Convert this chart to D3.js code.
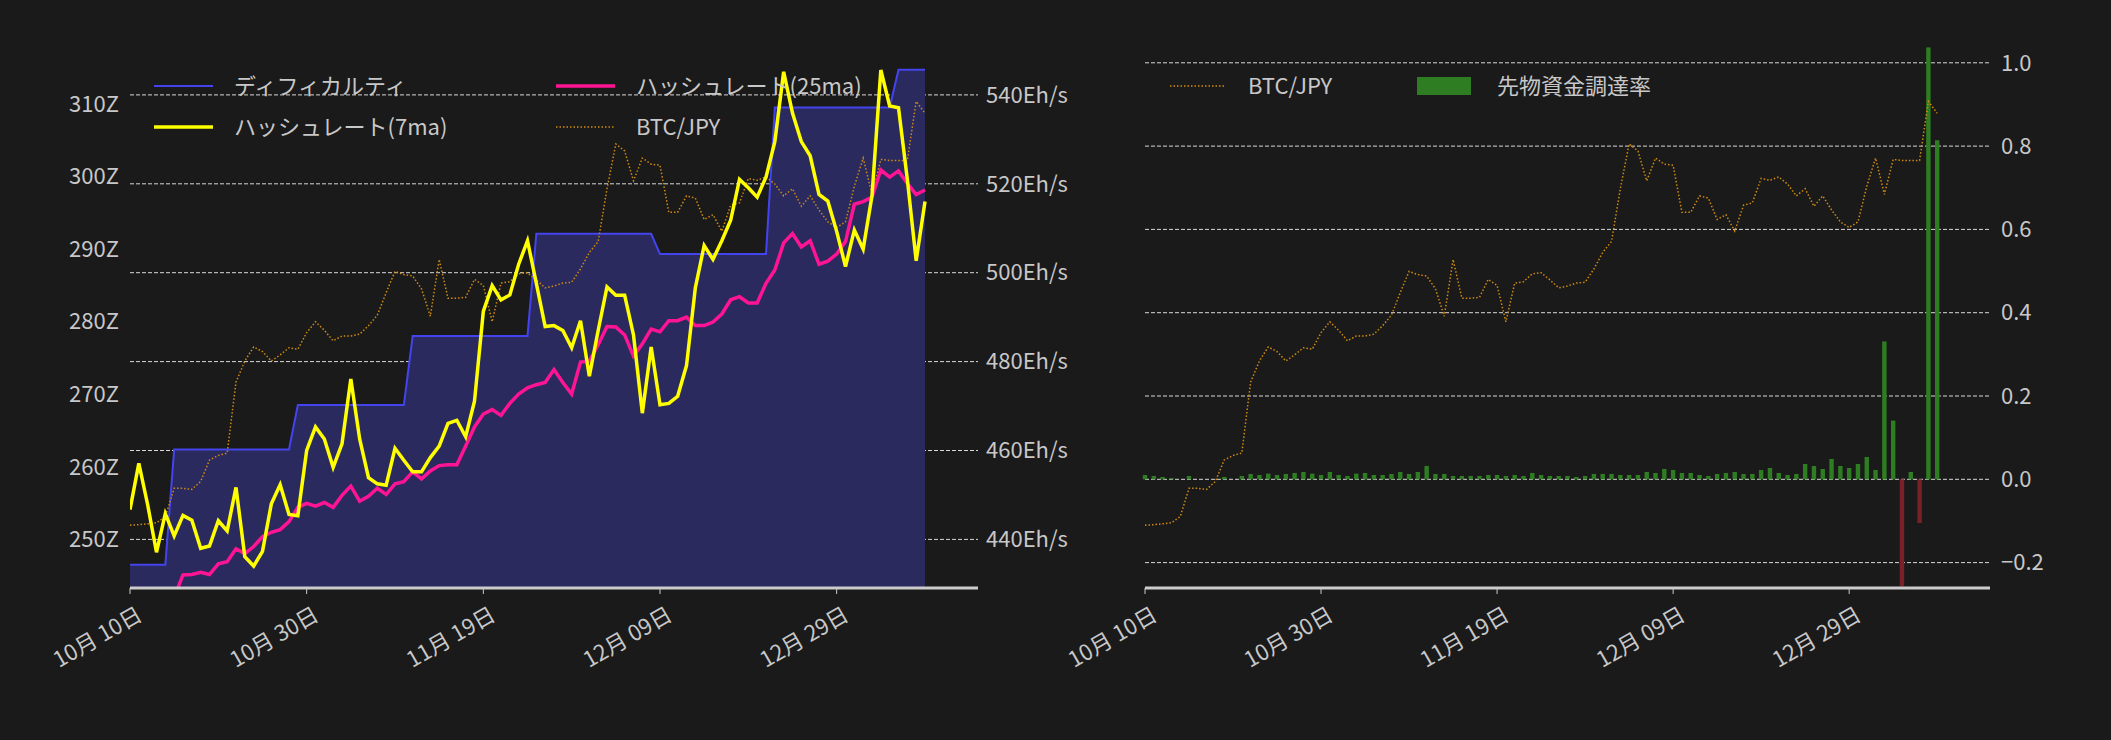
<!DOCTYPE html>
<html><head><meta charset="utf-8">
<script src="https://cdn.jsdelivr.net/npm/d3@7"></script>
<style>body{margin:0;background:#1a1a1a}svg{display:block}text{font-family:"Noto Sans CJK JP","Noto Sans",sans-serif}</style>
</head><body><svg id="c" width="2111" height="740"></svg>
<script>
const xTickIdx=[0,20,40,60,80];
const xTickLabels=["10月 10日","10月 30日","11月 19日","12月 09日","12月 29日"];
const difficulty=[246.5,246.5,246.5,246.5,246.5,262.4,262.4,262.4,262.4,262.4,262.4,262.4,262.4,262.4,262.4,262.4,262.4,262.4,262.4,268.5,268.5,268.5,268.5,268.5,268.5,268.5,268.5,268.5,268.5,268.5,268.5,268.5,278.0,278.0,278.0,278.0,278.0,278.0,278.0,278.0,278.0,278.0,278.0,278.0,278.0,278.0,292.1,292.1,292.1,292.1,292.1,292.1,292.1,292.1,292.1,292.1,292.1,292.1,292.1,292.1,289.3,289.3,289.3,289.3,289.3,289.3,289.3,289.3,289.3,289.3,289.3,289.3,289.3,309.5,309.5,309.5,309.5,309.5,309.5,309.5,309.5,309.5,309.5,309.5,309.5,309.5,309.5,314.7,314.7,314.7,314.7];
const hash7=[446.7,457.1,447.8,437.1,445.8,440.8,445.4,444.3,438.0,438.5,444.2,441.9,451.7,436.1,434.0,437.3,448.0,452.3,445.6,445.3,460.0,465.3,462.6,456.2,461.5,476.1,462.6,453.9,452.5,452.2,460.5,457.8,455.2,455.2,458.4,461.0,466.1,466.8,463.1,471.1,491.3,497.1,493.9,495.0,501.9,507.2,497.6,487.9,488.1,487.0,483.1,489.2,476.7,487.0,496.8,494.9,494.9,486.0,468.4,483.3,470.3,470.6,472.2,479.1,496.6,506.1,503.0,507.2,511.8,521.0,519.1,517.0,521.5,529.5,545.2,535.9,529.5,526.3,517.6,516.1,509.3,501.4,509.6,505.3,517.3,545.6,537.5,537.1,521.0,502.7,516.0];
const hash25=[null,null,null,null,null,427.0,432.0,432.1,432.6,432.1,434.5,435.0,437.9,436.8,438.4,440.6,441.6,442.2,444.0,447.2,448.1,447.5,448.3,447.2,449.9,452.0,448.6,449.7,451.5,450.1,452.5,453.0,455.2,453.6,455.4,456.6,456.8,456.8,461.0,465.3,468.2,469.2,467.9,470.6,472.7,474.1,474.8,475.3,478.2,475.3,472.7,479.9,480.1,483.8,487.9,487.8,486.0,481.2,484.0,487.3,486.7,489.2,489.2,490.0,488.1,488.1,488.9,490.7,493.9,494.6,493.2,493.2,497.6,500.6,506.7,508.8,505.8,507.2,501.9,502.6,504.2,507.0,515.4,516.0,517.0,523.1,521.5,522.9,520.1,517.6,518.6];
const btcjpy=[409.9,410.2,410.7,411.3,414.9,431.6,431.6,431.0,435.7,448.3,451.0,452.4,494.2,506.7,515.0,512.2,506.7,510.3,514.5,513.6,523.4,529.8,524.8,518.6,521.4,521.4,522.5,527.5,533.7,547.0,559.5,557.6,556.8,549.2,533.1,566.5,543.7,543.7,544.2,554.8,551.2,529.8,552.6,553.4,558.1,558.7,554.5,549.8,550.9,552.6,553.1,560.9,570.7,577.1,608.2,634.6,630.5,612.9,626.3,622.7,622.1,594.3,594.3,604.0,602.7,590.1,592.9,583.2,598.5,599.9,614.3,613.2,615.2,611.0,604.0,608.2,597.9,604.0,595.7,588.7,585.4,588.7,609.6,626.3,604.9,625.5,624.9,624.9,624.9,659.7,652.7];
const funding=[0.0104,0.008,0.0056,0.003,0,0.008,0,0,0,0.0056,0,0.008,0.0128,0.0104,0.0136,0.0104,0.0128,0.0152,0.0176,0.0136,0.0104,0.0176,0.0104,0.008,0.0136,0.0152,0.0104,0.0104,0.0128,0.0176,0.0128,0.0176,0.032,0.0128,0.0128,0.008,0.008,0.008,0.008,0.0104,0.0104,0.008,0.0104,0.008,0.0152,0.0104,0.008,0.008,0.008,0.0056,0.008,0.0128,0.0128,0.0128,0.0104,0.0104,0.0104,0.0176,0.0152,0.0248,0.0224,0.0152,0.0152,0.0104,0.008,0.0128,0.0152,0.0176,0.0128,0.0128,0.0224,0.0272,0.0152,0.0104,0.0128,0.0368,0.032,0.0248,0.0488,0.032,0.0272,0.0368,0.0536,0.0224,0.331,0.141,-0.257,0.0176,-0.105,1.037,0.814];
const diffTicks=[250,260,270,280,290,300,310];
const hashTicks=[440,460,480,500,520,540];
const fundTicks=[-0.2,0,0.2,0.4,0.6,0.8,1.0];

const svg=d3.select("#c");
const TXT="#c8c8c8", FS=22;
const idx=d3.range(hash7.length);
// ---------- left chart ----------
const L={l:130,r:978,t:60,b:588};
const xL=d3.scaleLinear().domain([0,96]).range([L.l,L.r]);
const yD=d3.scaleLinear().domain([250,310]).range([539.4,103.8]);
const yH=d3.scaleLinear().domain([440,540]).range([539.4,94.9]);
const yB=d3.scaleLinear().domain([410,660]).range([525,100.9]);
svg.append("clipPath").attr("id","cl").append("rect").attr("x",L.l).attr("y",L.t).attr("width",L.r-L.l).attr("height",L.b-L.t);
const gL=svg.append("g");
hashTicks.forEach(v=>gL.append("line").attr("x1",L.l).attr("x2",L.r).attr("y1",yH(v)).attr("y2",yH(v)).attr("stroke","#d8d8d8").attr("stroke-width",1).attr("stroke-dasharray","4,2"));
const pl=gL.append("g").attr("clip-path","url(#cl)");
pl.append("path").datum(idx).attr("d",d3.area().x(i=>xL(i)).y0(L.b).y1(i=>yD(difficulty[i]))).attr("fill","#2a2a5e");
pl.append("path").datum(idx).attr("d",d3.line().x(i=>xL(i)).y(i=>yD(difficulty[i]))).attr("fill","none").attr("stroke","#4444ee").attr("stroke-width",2);
pl.append("path").datum(idx).attr("d",d3.line().x(i=>xL(i)).y(i=>yB(btcjpy[i]))).attr("fill","none").attr("stroke","#d08a10").attr("stroke-width",1.5).attr("stroke-dasharray","1.5,2");
pl.append("path").datum(idx.filter(i=>hash25[i]!=null)).attr("d",d3.line().x(i=>xL(i)).y(i=>yH(hash25[i]))).attr("fill","none").attr("stroke","#ff1493").attr("stroke-width",3.5);
pl.append("path").datum(idx).attr("d",d3.line().x(i=>xL(i)).y(i=>yH(hash7[i]))).attr("fill","none").attr("stroke","#ffff00").attr("stroke-width",3.5);
gL.append("line").attr("x1",L.l).attr("x2",L.r).attr("y1",L.b).attr("y2",L.b).attr("stroke","#cccccc").attr("stroke-width",3);
diffTicks.forEach(v=>gL.append("text").attr("x",119).attr("y",yD(v)).attr("dy","0.35em").attr("text-anchor","end").attr("fill",TXT).attr("font-size",FS).text(v+"Z"));
hashTicks.forEach(v=>gL.append("text").attr("x",986).attr("y",yH(v)).attr("dy","0.35em").attr("fill",TXT).attr("font-size",FS).text(v+"Eh/s"));
function xlabels(g,x){xTickIdx.forEach((t,k)=>{g.append("line").attr("x1",x(t)).attr("x2",x(t)).attr("y1",588).attr("y2",594).attr("stroke","#cccccc");
 g.append("text").attr("transform",`translate(${x(t)+6},${606}) rotate(-30)`).attr("text-anchor","end").attr("dy","0.7em").attr("fill",TXT).attr("font-size",FS).text(xTickLabels[k]);});}
xlabels(gL,xL);
// legend left
function legLine(g,x,y,col,w,dash,label){g.append("line").attr("x1",x).attr("x2",x+59).attr("y1",y).attr("y2",y).attr("stroke",col).attr("stroke-width",w).attr("stroke-dasharray",dash);
 g.append("text").attr("x",x+80).attr("y",y).attr("dy","0.35em").attr("fill",TXT).attr("font-size",FS).text(label);}
legLine(gL,154,86,"#4444ee",2,null,"ディフィカルティ");
legLine(gL,154,127,"#ffff00",3.5,null,"ハッシュレート(7ma)");
legLine(gL,556,86,"#ff1493",3.5,null,"ハッシュレート(25ma)");
legLine(gL,556,127,"#d08a10",1.5,"1.5,2","BTC/JPY");
// ---------- right chart ----------
const R={l:1145,r:1990,t:40,b:588};
const xR=d3.scaleLinear().domain([0,96]).range([R.l,R.r]);
const yF=d3.scaleLinear().domain([0,1]).range([479.3,62.8]);
const gR=svg.append("g");
fundTicks.forEach(v=>gR.append("line").attr("x1",R.l).attr("x2",R.r).attr("y1",yF(v)).attr("y2",yF(v)).attr("stroke","#d8d8d8").attr("stroke-width",1).attr("stroke-dasharray","4,2"));
gR.selectAll("rect.b").data(idx).enter().append("rect").attr("x",i=>xR(i)-2.2).attr("width",4.4)
 .attr("y",i=>funding[i]>=0?yF(funding[i]):yF(0)).attr("height",i=>Math.abs(yF(funding[i])-yF(0)))
 .attr("fill",i=>funding[i]>=0?"#2e7d22":"#7a2028");
gR.append("path").datum(idx).attr("d",d3.line().x(i=>xR(i)).y(i=>yB(btcjpy[i]))).attr("fill","none").attr("stroke","#d08a10").attr("stroke-width",1.5).attr("stroke-dasharray","1.5,2");
gR.append("line").attr("x1",R.l).attr("x2",R.r).attr("y1",R.b).attr("y2",R.b).attr("stroke","#cccccc").attr("stroke-width",3);
fundTicks.forEach(v=>gR.append("text").attr("x",2001).attr("y",yF(v)).attr("dy","0.35em").attr("fill",TXT).attr("font-size",FS).text(v<0?"−"+Math.abs(v).toFixed(1):v.toFixed(1)));
xlabels(gR,xR);
gR.append("line").attr("x1",1170).attr("x2",1225).attr("y1",86).attr("y2",86).attr("stroke","#d08a10").attr("stroke-width",1.5).attr("stroke-dasharray","1.5,2");
gR.append("text").attr("x",1248).attr("y",86).attr("dy","0.35em").attr("fill",TXT).attr("font-size",FS).text("BTC/JPY");
gR.append("rect").attr("x",1417).attr("y",77).attr("width",54).attr("height",18).attr("fill","#2e7d22");
gR.append("text").attr("x",1497).attr("y",86).attr("dy","0.35em").attr("fill",TXT).attr("font-size",FS).text("先物資金調達率");
</script></body></html>
